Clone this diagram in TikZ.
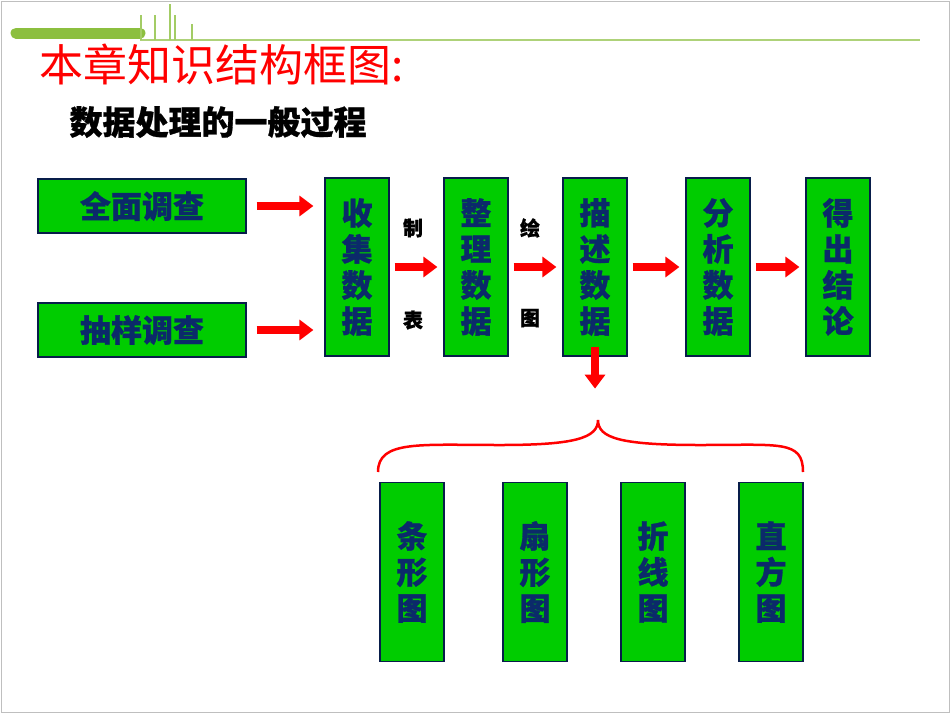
\documentclass[tikz,border=0pt]{standalone}
\usepackage{fontspec}
\setmainfont{Noto Sans CJK SC}
\newfontfamily\cjkb{Noto Sans CJK SC}[FakeBold=0.9]
\usetikzlibrary{arrows.meta}
\definecolor{boxgreen}{HTML}{00CC00}
\definecolor{navy}{HTML}{0B2A6A}
\definecolor{leaf}{HTML}{8CBF3F}
\tikzset{
  hbox/.style={draw=navy!70!black, line width=1.2pt, fill=boxgreen, text=navy,
    minimum width=208pt, minimum height=54pt, font=\cjkb\bfseries\fontsize{31}{32}\selectfont},
  vbox/.style={draw=navy!70!black, line width=1.2pt, fill=boxgreen, text=navy,
    minimum width=64pt, minimum height=178pt, align=center,
    font=\cjkb\bfseries\fontsize{31}{36}\selectfont},
  redarrow/.style={red, line width=8pt, -{Triangle[length=14pt,width=20pt]}},
  lab/.style={font=\cjkb\bfseries\fontsize{20}{22}\selectfont}
}
\begin{document}
\begin{tikzpicture}[x=1pt, y=-1pt]
  \useasboundingbox (0,0) rectangle (950,713);
  \draw[gray!50, line width=1pt] (1,1) rectangle (949,712);

  % top decoration
  \draw[leaf!70, line width=2.5pt] (140,40) -- (920,40);
  \draw[leaf, line width=11pt, line cap=round] (16,33) -- (140,33);
  \foreach \x/\t in {141/15,155/15,170/4,175/15,192/24}
    \draw[leaf!80, line width=1.5pt] (\x,40) -- (\x,\t);

  % titles
  \node[anchor=west, text=red, font=\fontsize{44}{46}\selectfont] (title) at (36,64) {本章知识结构框图:};
  \node[anchor=west, font=\cjkb\bfseries\fontsize{33}{35}\selectfont] (sub) at (66,122) {数据处理的一般过程};

  % boxes
  \node[hbox] (qm) at (142,206) {全面调查};
  \node[hbox] (cy) at (142,330) {抽样调查};
  \node[vbox] (sj) at (357,267) {收\\集\\数\\据};
  \node[vbox] (zl) at (476,267) {整\\理\\数\\据};
  \node[vbox] (ms) at (595,267) {描\\述\\数\\据};
  \node[vbox] (fx) at (718,267) {分\\析\\数\\据};
  \node[vbox] (dc) at (838,267) {得\\出\\结\\论};
  \node[vbox, minimum height=179pt] (tx) at (412,572) {条\\形\\图};
  \node[vbox, minimum height=179pt] (sx) at (535,572) {扇\\形\\图};
  \node[vbox, minimum height=179pt] (zx) at (653,572) {折\\线\\图};
  \node[vbox, minimum height=179pt] (zf) at (771,572) {直\\方\\图};

  % labels
  \node[lab] (zhi) at (413,228) {制};
  \node[lab] (biao) at (413,320) {表};
  \node[lab] (hui) at (530,228) {绘};
  \node[lab] (tu) at (530,318) {图};

  % arrows
  \draw[redarrow] ([xshift=10pt]qm.east) -- ([xshift=-11pt]qm.east -| sj.west);
  \draw[redarrow] ([xshift=10pt]cy.east) -- ([xshift=-11pt]cy.east -| sj.west);
  \foreach \a/\b in {sj/zl, zl/ms, ms/fx, fx/dc}
    \draw[redarrow] ([xshift=5pt]\a.east) -- ([xshift=-6pt]\b.west);
  \draw[redarrow] ([yshift=10pt]ms.south) -- ++(0,42);

  % brace
  \draw[red, line width=2.5pt] (378,472) .. controls (378,440) and (420,445) .. (500,445)
    .. controls (575,445) and (598,438) .. (598,420)
    .. controls (598,438) and (620,445) .. (700,445)
    .. controls (780,445) and (803,440) .. (803,472);
\end{tikzpicture}
\end{document}
